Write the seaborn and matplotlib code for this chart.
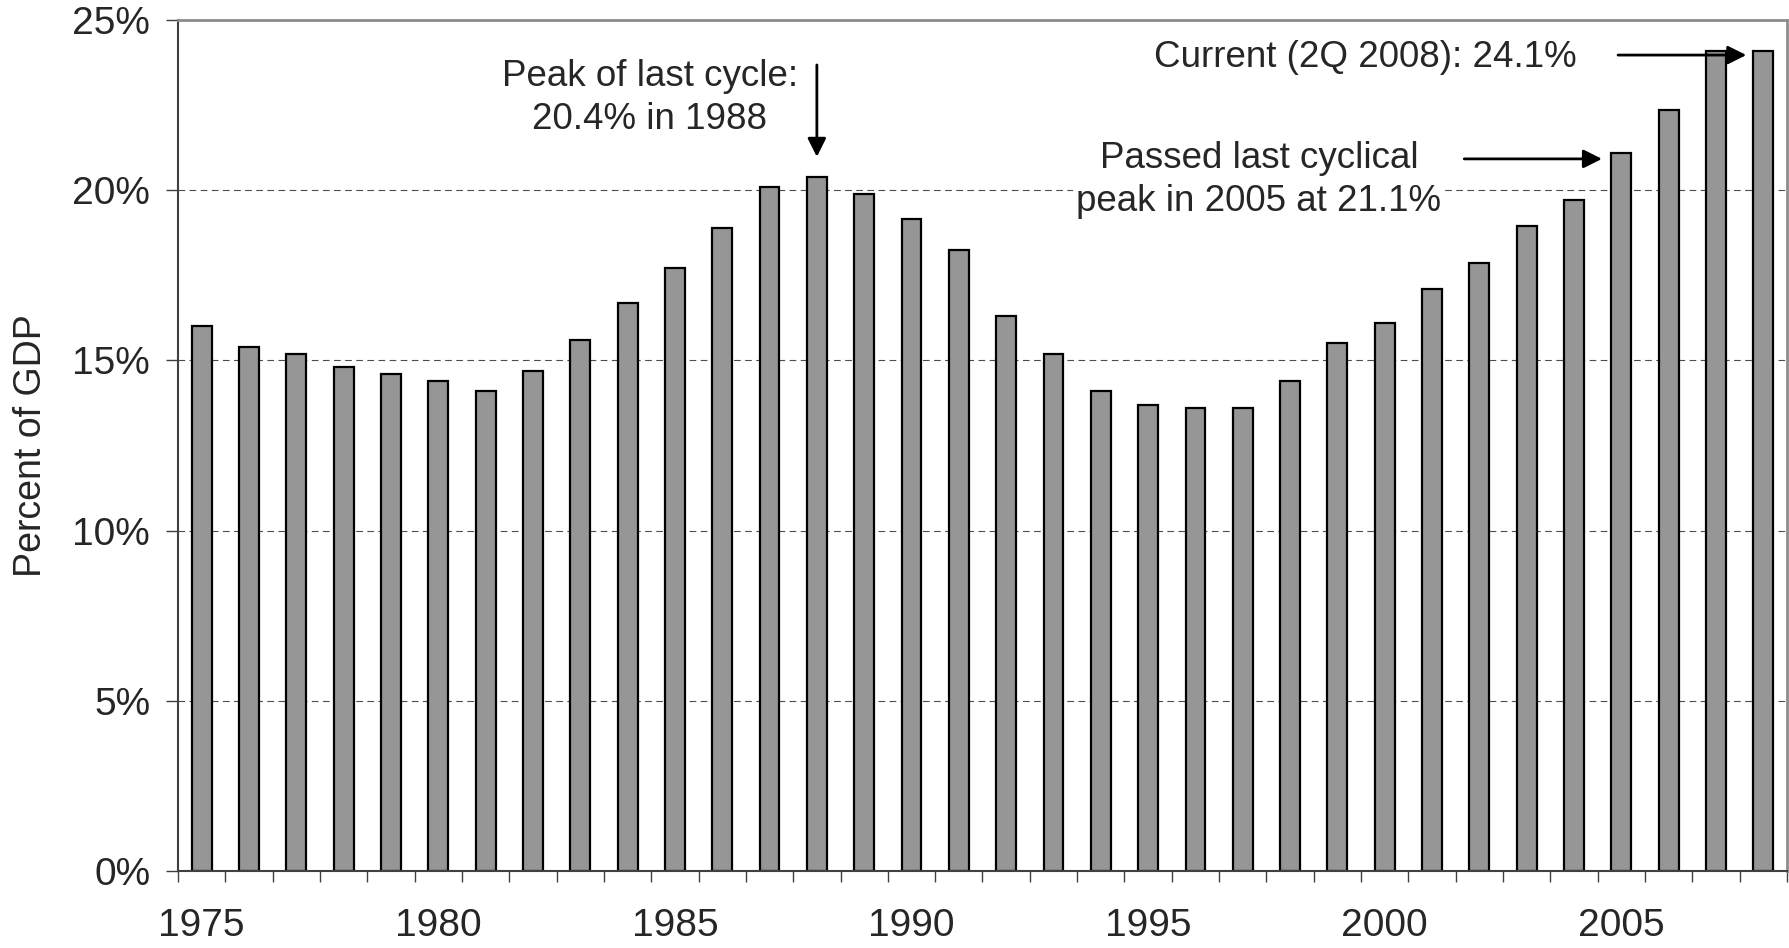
import numpy as np
import pandas as pd
import matplotlib
matplotlib.use('Agg')
import matplotlib.pyplot as plt
import seaborn as sns

# %%
# Dados (percentual do PIB por ano)
years = list(range(1975, 2009))
values = [16.0, 15.4, 15.2, 14.8, 14.6, 14.4, 14.1, 14.7, 15.6, 16.7,
          17.7, 18.9, 20.1, 20.4, 19.9, 19.15, 18.25, 16.3, 15.2, 14.1,
          13.7, 13.6, 13.6, 14.4, 15.5, 16.1, 17.1, 17.85, 18.95, 19.7,
          21.1, 22.35, 24.1, 24.1]
year_labels = ['1975', '1980', '1985', '1990', '1995', '2000', '2005']
y_ticks = [0, 5, 10, 15, 20, 25]

df = pd.DataFrame({'year': years, 'pct': values})

# %%
sns.set_style('white')
plt.rcParams['font.family'] = ['Liberation Sans', 'DejaVu Sans']

fig = plt.figure(figsize=(17.89, 9.48), dpi=100)
ax = fig.add_axes([178 / 1789, 77 / 948, 1609 / 1789, 851 / 948])

sns.barplot(data=df, x='year', y='pct', color='#969696', saturation=1,
            edgecolor='black', linewidth=1.6, width=0.42, ax=ax)

ax.set_xlim(-0.5, len(years) - 0.5)
ax.set_ylim(0, 25)

# grade tracejada
ax.set_axisbelow(True)
ax.yaxis.grid(True, linestyle=(0, (6, 4)), color='#4d4d4d', linewidth=0.8)
ax.xaxis.grid(False)

# eixo y
ax.set_yticks(y_ticks)
ax.set_yticklabels([f'{t}%' for t in y_ticks], fontsize=28)
ax.tick_params(axis='y', length=9, width=1, pad=11, color='#404040', left=True)

# eixo x: marcas entre as categorias, rótulos a cada 5 anos
ax.set_xticks(np.arange(-0.5, len(years), 1))
ax.set_xticklabels([])
ax.set_xticks([years.index(int(l)) for l in year_labels], minor=True)
ax.set_xticklabels(year_labels, minor=True, fontsize=28)
ax.tick_params(axis='x', which='major', length=8, width=1, color='#404040', bottom=True)
ax.tick_params(axis='x', which='minor', length=0, pad=27)

ax.set_xlabel('')
ax.set_ylabel('Percent of GDP', fontsize=27)
ax.yaxis.set_label_coords(-0.08, 0.5)

for s in ['left', 'bottom']:
    ax.spines[s].set_color('#404040')
    ax.spines[s].set_linewidth(1.5)
for s in ['top', 'right']:
    ax.spines[s].set_color('#8c8c8c')
    ax.spines[s].set_linewidth(2)

# %%
# anotações
arrow = dict(arrowstyle='-|>', mutation_scale=28, lw=2, color='black',
             shrinkA=0, shrinkB=0)

ax.text(9.47, 22.72, 'Peak of last cycle:\n20.4% in 1988', fontsize=26.5,
        ha='center', va='center', ma='center', linespacing=1.3)
ax.annotate('', xy=(13, 20.98), xytext=(13, 23.68), arrowprops=arrow)

ax.text(24.58, 23.91, 'Current (2Q 2008): 24.1%', fontsize=26.5,
        ha='center', va='center')
ax.annotate('', xy=(32.64, 23.97), xytext=(29.93, 23.97), arrowprops=arrow)

ax.text(22.34, 20.31, 'Passed last cyclical\npeak in 2005 at 21.1%', fontsize=26.5,
        ha='center', va='center', ma='center', linespacing=1.3,
        bbox=dict(facecolor='white', edgecolor='none', pad=2))
ax.annotate('', xy=(29.59, 20.92), xytext=(26.68, 20.92), arrowprops=arrow)

plt.savefig('out.png', dpi=100)
